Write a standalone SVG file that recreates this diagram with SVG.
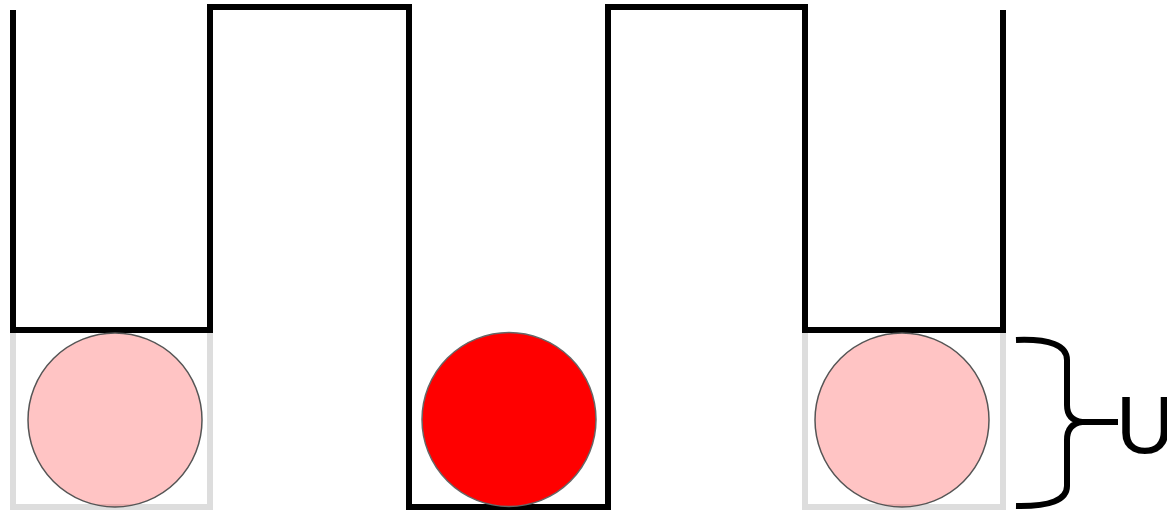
<svg xmlns="http://www.w3.org/2000/svg" width="1167" height="511" viewBox="0 0 1167 511">
<style>
.wall{fill:none;stroke:#000;stroke-width:6;stroke-linejoin:miter}
.slot{fill:none;stroke:#ddd;stroke-width:6}
.ghost{fill:#f00;fill-opacity:0.23;stroke:#555;stroke-width:1.5}
.ball{fill:#f00;stroke:#666;stroke-width:1.5}
.brace{fill:none;stroke:#000;stroke-width:6;stroke-linecap:butt}
.lbl{font-family:"Liberation Sans",Arial,sans-serif;font-size:81px;fill:#000}
</style>
<rect width="1167" height="511" fill="#fff"/>
<g id="slots">
<rect class="slot" x="13" y="330" width="197" height="177"/>
<rect class="slot" x="805" y="330" width="198" height="177"/>
</g>
<g id="connectors">
<path class="wall" d="M13,10 V330 H210 V7 H409 V507 H608 V7 H805 V330 H1003 V10"/>
</g>
<g id="ball-left"><circle class="ghost" cx="115" cy="420" r="87"/></g>
<g id="ball-middle"><circle class="ball" cx="509" cy="419.5" r="87"/></g>
<g id="ball-right"><circle class="ghost" cx="902" cy="420" r="87"/></g>
<g id="brace">
<path class="brace" d="M1016,340 Q1067,338 1067,360 L1067,405 Q1067,420 1082,422 L1118,422 M1082,422 Q1067,424 1067,440 L1067,486 Q1067,507 1016,506"/>
<text class="lbl" x="1116" y="453">U</text>
</g>
</svg>
